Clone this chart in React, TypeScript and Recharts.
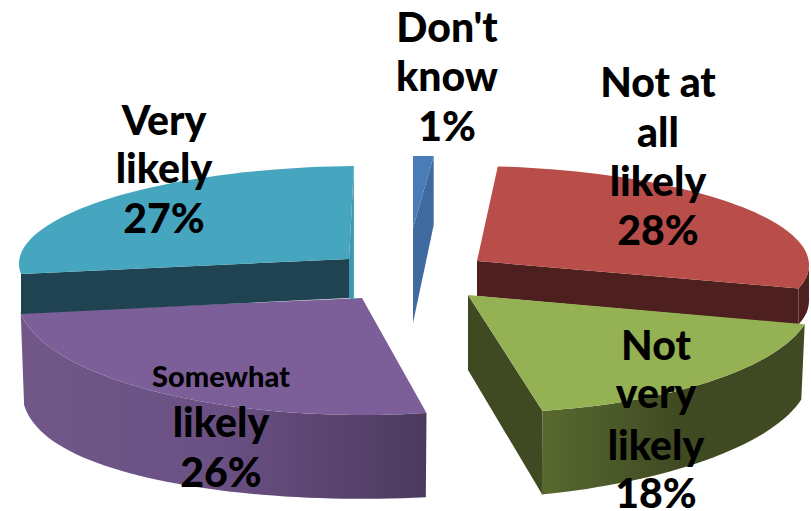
import React from "react";
import { PieChart, Pie } from "recharts";

const categories = ["Don't know", "Not at all likely", "Not very likely", "Somewhat likely", "Very likely"];
const percentages = [1, 28, 18, 26, 27];
const labelWords = [["Don't", "know"], ["Not at", "all", "likely"], ["Not", "very", "likely"], ["Somewhat", "likely"], ["Very", "likely"]];

const chartData = categories.map((name, i) => ({ name, value: percentages[i] }));

// Exploded-slice projection: centre, radii and shear for each wedge of the 3D pie
const PROJECTION: any[] = [
  { c: [413, 228], r: [330, 72], sy: 0, sx: 0, top: "#4A7DB8",
    faces: [{ edge: "end", apex: 95, rim: 69, fill: "#3F6A9F" }] },
  { c: [477, 261], r: [332, 95], sy: 0.012, sx: 0, top: "#B84D49",
    faces: [{ edge: "end", apex: 35, rim: 36, fill: "#4D1F1F" }],
    wall: { depth: 36, scale: 1, pow: 1, shear: 0, stops: ["#4D1F1F", "#4D1F1F"], range: [780, 810] } },
  { c: [468, 295], r: [345, 118], sy: 0, sx: 0.085, top: "#94B254",
    faces: [{ edge: "end", apex: 75, rim: 84, fill: "#404A22" }],
    wall: { depth: 87, scale: 0.99, pow: 1, shear: -0.035, stops: ["#58692F", "#404A22"], range: [543, 680] } },
  { c: [362, 298], r: [344, 117], sy: 0, sx: 0, top: "#7C5F99", faces: [],
    wall: { depth: 85, scale: 0.99, pow: 0.8, shear: 0, stops: ["#715889", "#6A5083", "#4C3A5E"], range: [20, 426] } },
  { c: [349, 259], r: [330, 93], sy: -0.01, sx: -0.053, top: "#46A5BF",
    faces: [
      { edge: "end", apex: 39, rim: 134, fill: "#3F98B0" },
      { edge: "start", apex: 39, rim: 40, fill: "#1F4350" },
    ] },
];

// Label placement: centre x, and baseline y with font size for every line
const LABEL_LAYOUT: any[] = [
  { x: 447, lines: [[42, 41], [91, 41], [141, 41]] },
  { x: 658, lines: [[97, 41], [147, 41], [196, 41], [245, 41]] },
  { x: 656, lines: [[360, 41], [408, 41], [460, 41], [508, 41]] },
  { x: 221, lines: [[387, 29], [437, 41], [487, 41]] },
  { x: 164, lines: [[135, 41], [183, 41], [233, 41]] },
];

const point = (g: any, deg: number, depth = 0, scale = 1, pow = 1, shear = 0) => {
  const t = (deg * Math.PI) / 180;
  const dx = g.r[0] * scale * Math.sin(t);
  const cos = Math.cos(t);
  const dy = -g.r[1] * scale * Math.sign(cos) * Math.pow(Math.abs(cos), pow);
  return [g.c[0] + dx + g.sx * dy, g.c[1] + dy + g.sy * dx + depth + shear * dx];
};

const arc = (g: any, from: number, to: number, depth = 0, scale = 1, pow = 1, shear = 0) => {
  const n = Math.max(2, Math.ceil(Math.abs(to - from) / 2));
  const pts = [];
  for (let i = 0; i <= n; i++) pts.push(point(g, from + ((to - from) * i) / n, depth, scale, pow, shear));
  return pts;
};

const toPath = (pts: number[][]) => "M" + pts.map((p) => `${p[0].toFixed(1)},${p[1].toFixed(1)}`).join("L") + "Z";

const Slice3D = (props: any) => {
  const i = categories.indexOf(props.name ?? props.payload?.name);
  const g = PROJECTION[i];
  const from = 90 - props.startAngle;
  const to = 90 - props.endAngle;
  const wallFrom = Math.max(from, 90);
  const wallTo = Math.min(to, 270);
  const gid = `wall-${i}`;
  const w = g.wall;
  return (
    <g>
      {w && (
        <defs>
          <linearGradient id={gid} gradientUnits="userSpaceOnUse" x1={w.range[0]} x2={w.range[1]} y1={0} y2={0}>
            {w.stops.map((s: string, k: number) => (
              <stop key={k} offset={k / (w.stops.length - 1)} stopColor={s} />
            ))}
          </linearGradient>
        </defs>
      )}
      {g.faces.map((f: any, k: number) => {
        const rim = point(g, f.edge === "start" ? from : to);
        return (
          <path
            key={k}
            fill={f.fill}
            d={toPath([g.c, rim, [rim[0], rim[1] + f.rim], [g.c[0], g.c[1] + f.apex]])}
          />
        );
      })}
      {w && wallTo > wallFrom && (
        <path
          fill={`url(#${gid})`}
          d={toPath([...arc(g, wallFrom, wallTo), ...arc(g, wallTo, wallFrom, w.depth, w.scale, w.pow, w.shear)])}
        />
      )}
      <path fill={g.top} d={toPath([g.c, ...arc(g, from, to)])} />
    </g>
  );
};

const SliceLabel = (props: any) => {
  const i = categories.indexOf(props.name ?? props.payload?.name);
  const layout = LABEL_LAYOUT[i];
  const lines = [...labelWords[i], `${percentages[i]}%`];
  return (
    <g>
      {lines.map((line, k) => (
        <text
          key={k}
          x={layout.x}
          y={layout.lines[k][0]}
          textAnchor="middle"
          fontFamily="Lato, sans-serif"
          fontWeight={900}
          fontSize={layout.lines[k][1]}
          fill="#000"
        >
          {line}
        </text>
      ))}
    </g>
  );
};

export default function App() {
  return (
    <div style={{ position: "absolute", left: 0, top: 0, width: 811, height: 511, background: "#fff" }}>
      <PieChart width={811} height={511} margin={{ top: 0, right: 0, bottom: 0, left: 0 }}>
        <Pie
          data={chartData}
          dataKey="value"
          nameKey="name"
          cx={405}
          cy={300}
          outerRadius={100}
          startAngle={90}
          endAngle={-270}
          stroke="none"
          isAnimationActive={false}
          shape={Slice3D}
          label={SliceLabel}
          labelLine={false}
        />
      </PieChart>
    </div>
  );
}
